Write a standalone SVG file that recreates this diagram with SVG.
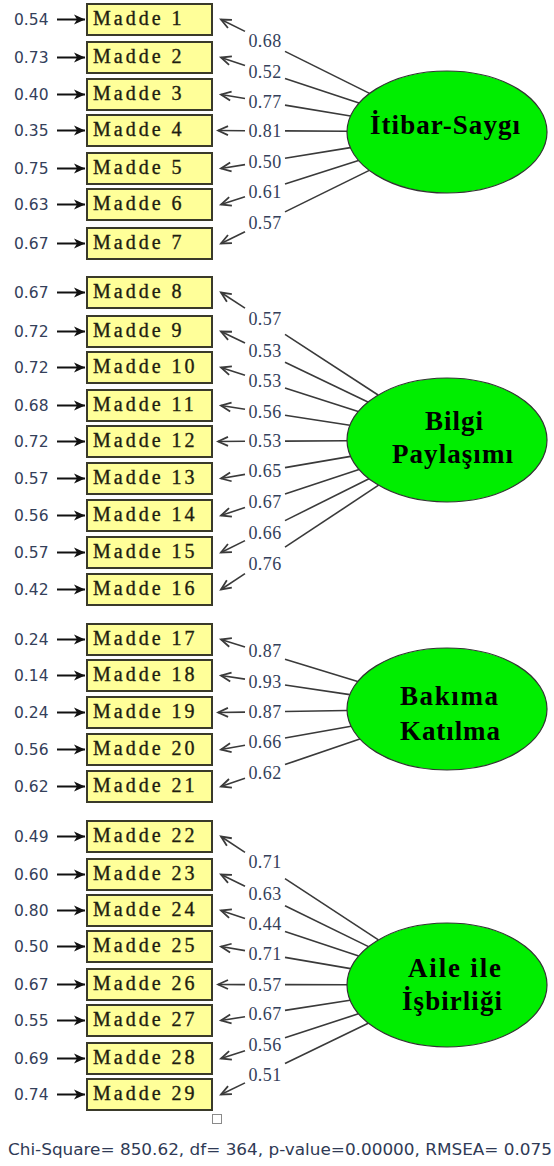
<svg xmlns="http://www.w3.org/2000/svg" width="554" height="1166" viewBox="0 0 554 1166">
<style>
.bg{fill:#ffffff}
.box{fill:#ffff99;stroke:#3a3a2a;stroke-width:2}
.itm{font-family:"Liberation Serif","Times New Roman",serif;font-size:20px;letter-spacing:3px;fill:#1e1e10;stroke:#1e1e10;stroke-width:0.35}
.lat{fill:#00ee00;stroke:#333333;stroke-width:1.2}
.ltx{font-family:"Liberation Serif","Times New Roman",serif;font-size:27px;font-weight:bold;fill:#000000;text-anchor:middle}
.err{stroke:#111111;stroke-width:2}
.ld{stroke:#3a3a3a;stroke-width:1.6;fill:none}
.elab{font-family:"DejaVu Sans","Liberation Sans",sans-serif;font-size:15.5px;fill:#34405a}
.llab{font-family:"Liberation Serif","Times New Roman",serif;font-size:18px;letter-spacing:0.4px;fill:#34405a;text-anchor:middle}
.foot{font-family:"DejaVu Sans","Liberation Sans",sans-serif;font-size:16px;fill:#2f3a55}
</style>
<defs>
<marker id="solid" markerUnits="userSpaceOnUse" markerWidth="14" markerHeight="12" viewBox="-12 -6 14 12" refX="0" refY="0" orient="auto">
<path d="M-11,-5 L0,0 L-11,5 L-8,0 z" fill="#111111"/>
</marker>
<marker id="open" markerUnits="userSpaceOnUse" markerWidth="14" markerHeight="12" viewBox="-12 -6 14 12" refX="0" refY="0" orient="auto">
<path d="M-10,-4.5 L0,0 L-10,4.5" fill="none" stroke="#3a3a3a" stroke-width="1.8"/>
</marker>
</defs>
<rect class="bg" x="0" y="0" width="554" height="1166"/>

<g id="connectors">
<g id="error-arrows">
<line class="err" x1="57" y1="19.5" x2="85" y2="19.5" marker-end="url(#solid)"/>
<line class="err" x1="57" y1="57.5" x2="85" y2="57.5" marker-end="url(#solid)"/>
<line class="err" x1="57" y1="94.5" x2="85" y2="94.5" marker-end="url(#solid)"/>
<line class="err" x1="57" y1="130.5" x2="85" y2="130.5" marker-end="url(#solid)"/>
<line class="err" x1="57" y1="168.5" x2="85" y2="168.5" marker-end="url(#solid)"/>
<line class="err" x1="57" y1="204.5" x2="85" y2="204.5" marker-end="url(#solid)"/>
<line class="err" x1="57" y1="243.5" x2="85" y2="243.5" marker-end="url(#solid)"/>
<line class="err" x1="57" y1="292.5" x2="85" y2="292.5" marker-end="url(#solid)"/>
<line class="err" x1="57" y1="331.5" x2="85" y2="331.5" marker-end="url(#solid)"/>
<line class="err" x1="57" y1="367.5" x2="85" y2="367.5" marker-end="url(#solid)"/>
<line class="err" x1="57" y1="405.5" x2="85" y2="405.5" marker-end="url(#solid)"/>
<line class="err" x1="57" y1="441.5" x2="85" y2="441.5" marker-end="url(#solid)"/>
<line class="err" x1="57" y1="478.5" x2="85" y2="478.5" marker-end="url(#solid)"/>
<line class="err" x1="57" y1="515.5" x2="85" y2="515.5" marker-end="url(#solid)"/>
<line class="err" x1="57" y1="552.5" x2="85" y2="552.5" marker-end="url(#solid)"/>
<line class="err" x1="57" y1="589.5" x2="85" y2="589.5" marker-end="url(#solid)"/>
<line class="err" x1="57" y1="639.5" x2="85" y2="639.5" marker-end="url(#solid)"/>
<line class="err" x1="57" y1="675.5" x2="85" y2="675.5" marker-end="url(#solid)"/>
<line class="err" x1="57" y1="712.5" x2="85" y2="712.5" marker-end="url(#solid)"/>
<line class="err" x1="57" y1="749.5" x2="85" y2="749.5" marker-end="url(#solid)"/>
<line class="err" x1="57" y1="786.5" x2="85" y2="786.5" marker-end="url(#solid)"/>
<line class="err" x1="57" y1="836.5" x2="85" y2="836.5" marker-end="url(#solid)"/>
<line class="err" x1="57" y1="874.5" x2="85" y2="874.5" marker-end="url(#solid)"/>
<line class="err" x1="57" y1="910.5" x2="85" y2="910.5" marker-end="url(#solid)"/>
<line class="err" x1="57" y1="946.5" x2="85" y2="946.5" marker-end="url(#solid)"/>
<line class="err" x1="57" y1="984.5" x2="85" y2="984.5" marker-end="url(#solid)"/>
<line class="err" x1="57" y1="1020.5" x2="85" y2="1020.5" marker-end="url(#solid)"/>
<line class="err" x1="57" y1="1058.5" x2="85" y2="1058.5" marker-end="url(#solid)"/>
<line class="err" x1="57" y1="1094.5" x2="85" y2="1094.5" marker-end="url(#solid)"/>
</g>
<g id="error-labels">
<text class="elab" x="14" y="25">0.54</text>
<text class="elab" x="14" y="63">0.73</text>
<text class="elab" x="14" y="100">0.40</text>
<text class="elab" x="14" y="136">0.35</text>
<text class="elab" x="14" y="174">0.75</text>
<text class="elab" x="14" y="210">0.63</text>
<text class="elab" x="14" y="249">0.67</text>
<text class="elab" x="14" y="298">0.67</text>
<text class="elab" x="14" y="337">0.72</text>
<text class="elab" x="14" y="373">0.72</text>
<text class="elab" x="14" y="411">0.68</text>
<text class="elab" x="14" y="447">0.72</text>
<text class="elab" x="14" y="484">0.57</text>
<text class="elab" x="14" y="521">0.56</text>
<text class="elab" x="14" y="558">0.57</text>
<text class="elab" x="14" y="595">0.42</text>
<text class="elab" x="14" y="645">0.24</text>
<text class="elab" x="14" y="681">0.14</text>
<text class="elab" x="14" y="718">0.24</text>
<text class="elab" x="14" y="755">0.56</text>
<text class="elab" x="14" y="792">0.62</text>
<text class="elab" x="14" y="842">0.49</text>
<text class="elab" x="14" y="880">0.60</text>
<text class="elab" x="14" y="916">0.80</text>
<text class="elab" x="14" y="952">0.50</text>
<text class="elab" x="14" y="990">0.67</text>
<text class="elab" x="14" y="1026">0.55</text>
<text class="elab" x="14" y="1064">0.69</text>
<text class="elab" x="14" y="1100">0.74</text>
</g>
<g id="loadings">
<path class="ld" d="M245,31.4 L221,19.5" marker-end="url(#open)"/><path class="ld" d="M285,51.4 L369.5,93.4"/>
<path class="ld" d="M245,65.4 L221,57.5" marker-end="url(#open)"/><path class="ld" d="M285,78.6 L359,103"/>
<path class="ld" d="M245,98.5 L221,94.5" marker-end="url(#open)"/><path class="ld" d="M285,105.1 L350.5,116"/>
<path class="ld" d="M245,130.7 L218,130.5" marker-end="url(#open)"/><path class="ld" d="M285,130.9 L347,131.3"/>
<path class="ld" d="M245,164.6 L221,168.5" marker-end="url(#open)"/><path class="ld" d="M285,158.2 L350.4,147.6"/>
<path class="ld" d="M245,196.8 L221,204.5" marker-end="url(#open)"/><path class="ld" d="M285,184 L358.5,160.4"/>
<path class="ld" d="M245,231.7 L221,243.5" marker-end="url(#open)"/><path class="ld" d="M285,211.9 L369.3,170.4"/>

<path class="ld" d="M245,308.2 L221,292.5" marker-end="url(#open)"/><path class="ld" d="M285,334.3 L378.1,395"/>
<path class="ld" d="M245,343 L221,331.5" marker-end="url(#open)"/><path class="ld" d="M285,362.2 L367.9,402"/>
<path class="ld" d="M245,375.2 L221,367.5" marker-end="url(#open)"/><path class="ld" d="M285,388 L358.2,411.5"/>
<path class="ld" d="M245,409.2 L221,405.5" marker-end="url(#open)"/><path class="ld" d="M285,415.3 L349.9,425.2"/>
<path class="ld" d="M245,441.3 L218,441.5" marker-end="url(#open)"/><path class="ld" d="M285,441.1 L347,440.7"/>
<path class="ld" d="M245,474.4 L221,478.5" marker-end="url(#open)"/><path class="ld" d="M285,467.6 L350.6,456.4"/>
<path class="ld" d="M245,507.5 L221,515.5" marker-end="url(#open)"/><path class="ld" d="M285,494.1 L359,469.4"/>
<path class="ld" d="M245,540.6 L221,552.5" marker-end="url(#open)"/><path class="ld" d="M285,520.6 L369,478.8"/>
<path class="ld" d="M245,573.6 L221,589.5" marker-end="url(#open)"/><path class="ld" d="M285,547.2 L378.6,485.2"/>

<path class="ld" d="M245,646.9 L221,639.5" marker-end="url(#open)"/><path class="ld" d="M285,659.2 L357.7,681.5"/>
<path class="ld" d="M245,679.1 L221,675.5" marker-end="url(#open)"/><path class="ld" d="M285,685 L349.8,694.6"/>
<path class="ld" d="M245,712.1 L218,712.5" marker-end="url(#open)"/><path class="ld" d="M285,711.5 L347.1,710.5"/>
<path class="ld" d="M245,745.2 L221,749.5" marker-end="url(#open)"/><path class="ld" d="M285,738 L351.1,726.2"/>
<path class="ld" d="M245,778.3 L221,786.5" marker-end="url(#open)"/><path class="ld" d="M285,764.6 L359.8,738.9"/>

<path class="ld" d="M245,852.3 L221,836.5" marker-end="url(#open)"/><path class="ld" d="M285,878.6 L378.4,939.9"/>
<path class="ld" d="M245,886.2 L221,874.5" marker-end="url(#open)"/><path class="ld" d="M285,905.8 L368.5,946.6"/>
<path class="ld" d="M245,918.4 L221,910.5" marker-end="url(#open)"/><path class="ld" d="M285,931.6 L358.7,955.9"/>
<path class="ld" d="M245,950.6 L221,946.5" marker-end="url(#open)"/><path class="ld" d="M285,957.4 L350.6,968.6"/>
<path class="ld" d="M245,984.6 L218,984.5" marker-end="url(#open)"/><path class="ld" d="M285,984.6 L347,984.8"/>
<path class="ld" d="M245,1016.7 L221,1020.5" marker-end="url(#open)"/><path class="ld" d="M285,1010.4 L350.1,1000.2"/>
<path class="ld" d="M245,1050.7 L221,1058.5" marker-end="url(#open)"/><path class="ld" d="M285,1037.7 L358.4,1013.8"/>
<path class="ld" d="M245,1082.9 L221,1094.5" marker-end="url(#open)"/><path class="ld" d="M285,1063.5 L368.2,1023.2"/>
</g>
<g id="loading-labels">
<text class="llab" x="265" y="47">0.68</text>
<text class="llab" x="265" y="78">0.52</text>
<text class="llab" x="265" y="108">0.77</text>
<text class="llab" x="265" y="137">0.81</text>
<text class="llab" x="265" y="168">0.50</text>
<text class="llab" x="265" y="198">0.61</text>
<text class="llab" x="265" y="229">0.57</text>
<text class="llab" x="265" y="325">0.57</text>
<text class="llab" x="265" y="357">0.53</text>
<text class="llab" x="265" y="387">0.53</text>
<text class="llab" x="265" y="418">0.56</text>
<text class="llab" x="265" y="447">0.53</text>
<text class="llab" x="265" y="477">0.65</text>
<text class="llab" x="265" y="508">0.67</text>
<text class="llab" x="265" y="539">0.66</text>
<text class="llab" x="265" y="570">0.76</text>
<text class="llab" x="265" y="657">0.87</text>
<text class="llab" x="265" y="688">0.93</text>
<text class="llab" x="265" y="718">0.87</text>
<text class="llab" x="265" y="748">0.66</text>
<text class="llab" x="265" y="779">0.62</text>
<text class="llab" x="265" y="868">0.71</text>
<text class="llab" x="265" y="900">0.63</text>
<text class="llab" x="265" y="930">0.44</text>
<text class="llab" x="265" y="960">0.71</text>
<text class="llab" x="265" y="991">0.57</text>
<text class="llab" x="265" y="1020">0.67</text>
<text class="llab" x="265" y="1051">0.56</text>
<text class="llab" x="265" y="1081">0.51</text>
</g>
</g>

<g id="items">
<g id="madde1"><rect class="box" x="87" y="4" width="125" height="31"/><text class="itm" x="93" y="25">Madde 1</text></g>
<g id="madde2"><rect class="box" x="87" y="42" width="125" height="31"/><text class="itm" x="93" y="63">Madde 2</text></g>
<g id="madde3"><rect class="box" x="87" y="79" width="125" height="31"/><text class="itm" x="93" y="100">Madde 3</text></g>
<g id="madde4"><rect class="box" x="87" y="115" width="125" height="31"/><text class="itm" x="93" y="136">Madde 4</text></g>
<g id="madde5"><rect class="box" x="87" y="153" width="125" height="31"/><text class="itm" x="93" y="174">Madde 5</text></g>
<g id="madde6"><rect class="box" x="87" y="189" width="125" height="31"/><text class="itm" x="93" y="210">Madde 6</text></g>
<g id="madde7"><rect class="box" x="87" y="228" width="125" height="31"/><text class="itm" x="93" y="249">Madde 7</text></g>
<g id="madde8"><rect class="box" x="87" y="277" width="125" height="31"/><text class="itm" x="93" y="298">Madde 8</text></g>
<g id="madde9"><rect class="box" x="87" y="316" width="125" height="31"/><text class="itm" x="93" y="337">Madde 9</text></g>
<g id="madde10"><rect class="box" x="87" y="352" width="125" height="31"/><text class="itm" x="93" y="373">Madde 10</text></g>
<g id="madde11"><rect class="box" x="87" y="390" width="125" height="31"/><text class="itm" x="93" y="411">Madde 11</text></g>
<g id="madde12"><rect class="box" x="87" y="426" width="125" height="31"/><text class="itm" x="93" y="447">Madde 12</text></g>
<g id="madde13"><rect class="box" x="87" y="463" width="125" height="31"/><text class="itm" x="93" y="484">Madde 13</text></g>
<g id="madde14"><rect class="box" x="87" y="500" width="125" height="31"/><text class="itm" x="93" y="521">Madde 14</text></g>
<g id="madde15"><rect class="box" x="87" y="537" width="125" height="31"/><text class="itm" x="93" y="558">Madde 15</text></g>
<g id="madde16"><rect class="box" x="87" y="574" width="125" height="31"/><text class="itm" x="93" y="595">Madde 16</text></g>
<g id="madde17"><rect class="box" x="87" y="624" width="125" height="31"/><text class="itm" x="93" y="645">Madde 17</text></g>
<g id="madde18"><rect class="box" x="87" y="660" width="125" height="31"/><text class="itm" x="93" y="681">Madde 18</text></g>
<g id="madde19"><rect class="box" x="87" y="697" width="125" height="31"/><text class="itm" x="93" y="718">Madde 19</text></g>
<g id="madde20"><rect class="box" x="87" y="734" width="125" height="31"/><text class="itm" x="93" y="755">Madde 20</text></g>
<g id="madde21"><rect class="box" x="87" y="771" width="125" height="31"/><text class="itm" x="93" y="792">Madde 21</text></g>
<g id="madde22"><rect class="box" x="87" y="821" width="125" height="31"/><text class="itm" x="93" y="842">Madde 22</text></g>
<g id="madde23"><rect class="box" x="87" y="859" width="125" height="31"/><text class="itm" x="93" y="880">Madde 23</text></g>
<g id="madde24"><rect class="box" x="87" y="895" width="125" height="31"/><text class="itm" x="93" y="916">Madde 24</text></g>
<g id="madde25"><rect class="box" x="87" y="931" width="125" height="31"/><text class="itm" x="93" y="952">Madde 25</text></g>
<g id="madde26"><rect class="box" x="87" y="969" width="125" height="31"/><text class="itm" x="93" y="990">Madde 26</text></g>
<g id="madde27"><rect class="box" x="87" y="1005" width="125" height="31"/><text class="itm" x="93" y="1026">Madde 27</text></g>
<g id="madde28"><rect class="box" x="87" y="1043" width="125" height="31"/><text class="itm" x="93" y="1064">Madde 28</text></g>
<g id="madde29"><rect class="box" x="87" y="1079" width="125" height="31"/><text class="itm" x="93" y="1100">Madde 29</text></g>
</g>

<g id="factors">
<g id="itibar-saygi"><ellipse class="lat" cx="447" cy="132" rx="100" ry="61"/><text class="ltx" x="445" y="134" textLength="150" lengthAdjust="spacing">İtibar-Saygı</text></g>
<g id="bilgi-paylasimi"><ellipse class="lat" cx="447" cy="440" rx="100" ry="62"/><text class="ltx" x="454" y="430" textLength="58" lengthAdjust="spacing">Bilgi</text><text class="ltx" x="452.5" y="463" textLength="121" lengthAdjust="spacing">Paylaşımı</text></g>
<g id="bakima-katilma"><ellipse class="lat" cx="447" cy="709" rx="100" ry="61"/><text class="ltx" x="449" y="705" textLength="98" lengthAdjust="spacing">Bakıma</text><text class="ltx" x="450" y="740" textLength="100" lengthAdjust="spacing">Katılma</text></g>
<g id="aile-ile-isbirligi"><ellipse class="lat" cx="447" cy="985" rx="100" ry="62"/><text class="ltx" x="454.5" y="977" textLength="93" lengthAdjust="spacing">Aile ile</text><text class="ltx" x="452" y="1010" textLength="100" lengthAdjust="spacing">İşbirliği</text></g>
</g>

<rect x="212.5" y="1114.5" width="9" height="9" fill="#ffffff" stroke="#8a8a8a" stroke-width="1"/>
<text class="foot" x="8" y="1155" textLength="544" lengthAdjust="spacingAndGlyphs">Chi-Square= 850.62, df= 364, p-value=0.00000, RMSEA= 0.075</text>
</svg>
